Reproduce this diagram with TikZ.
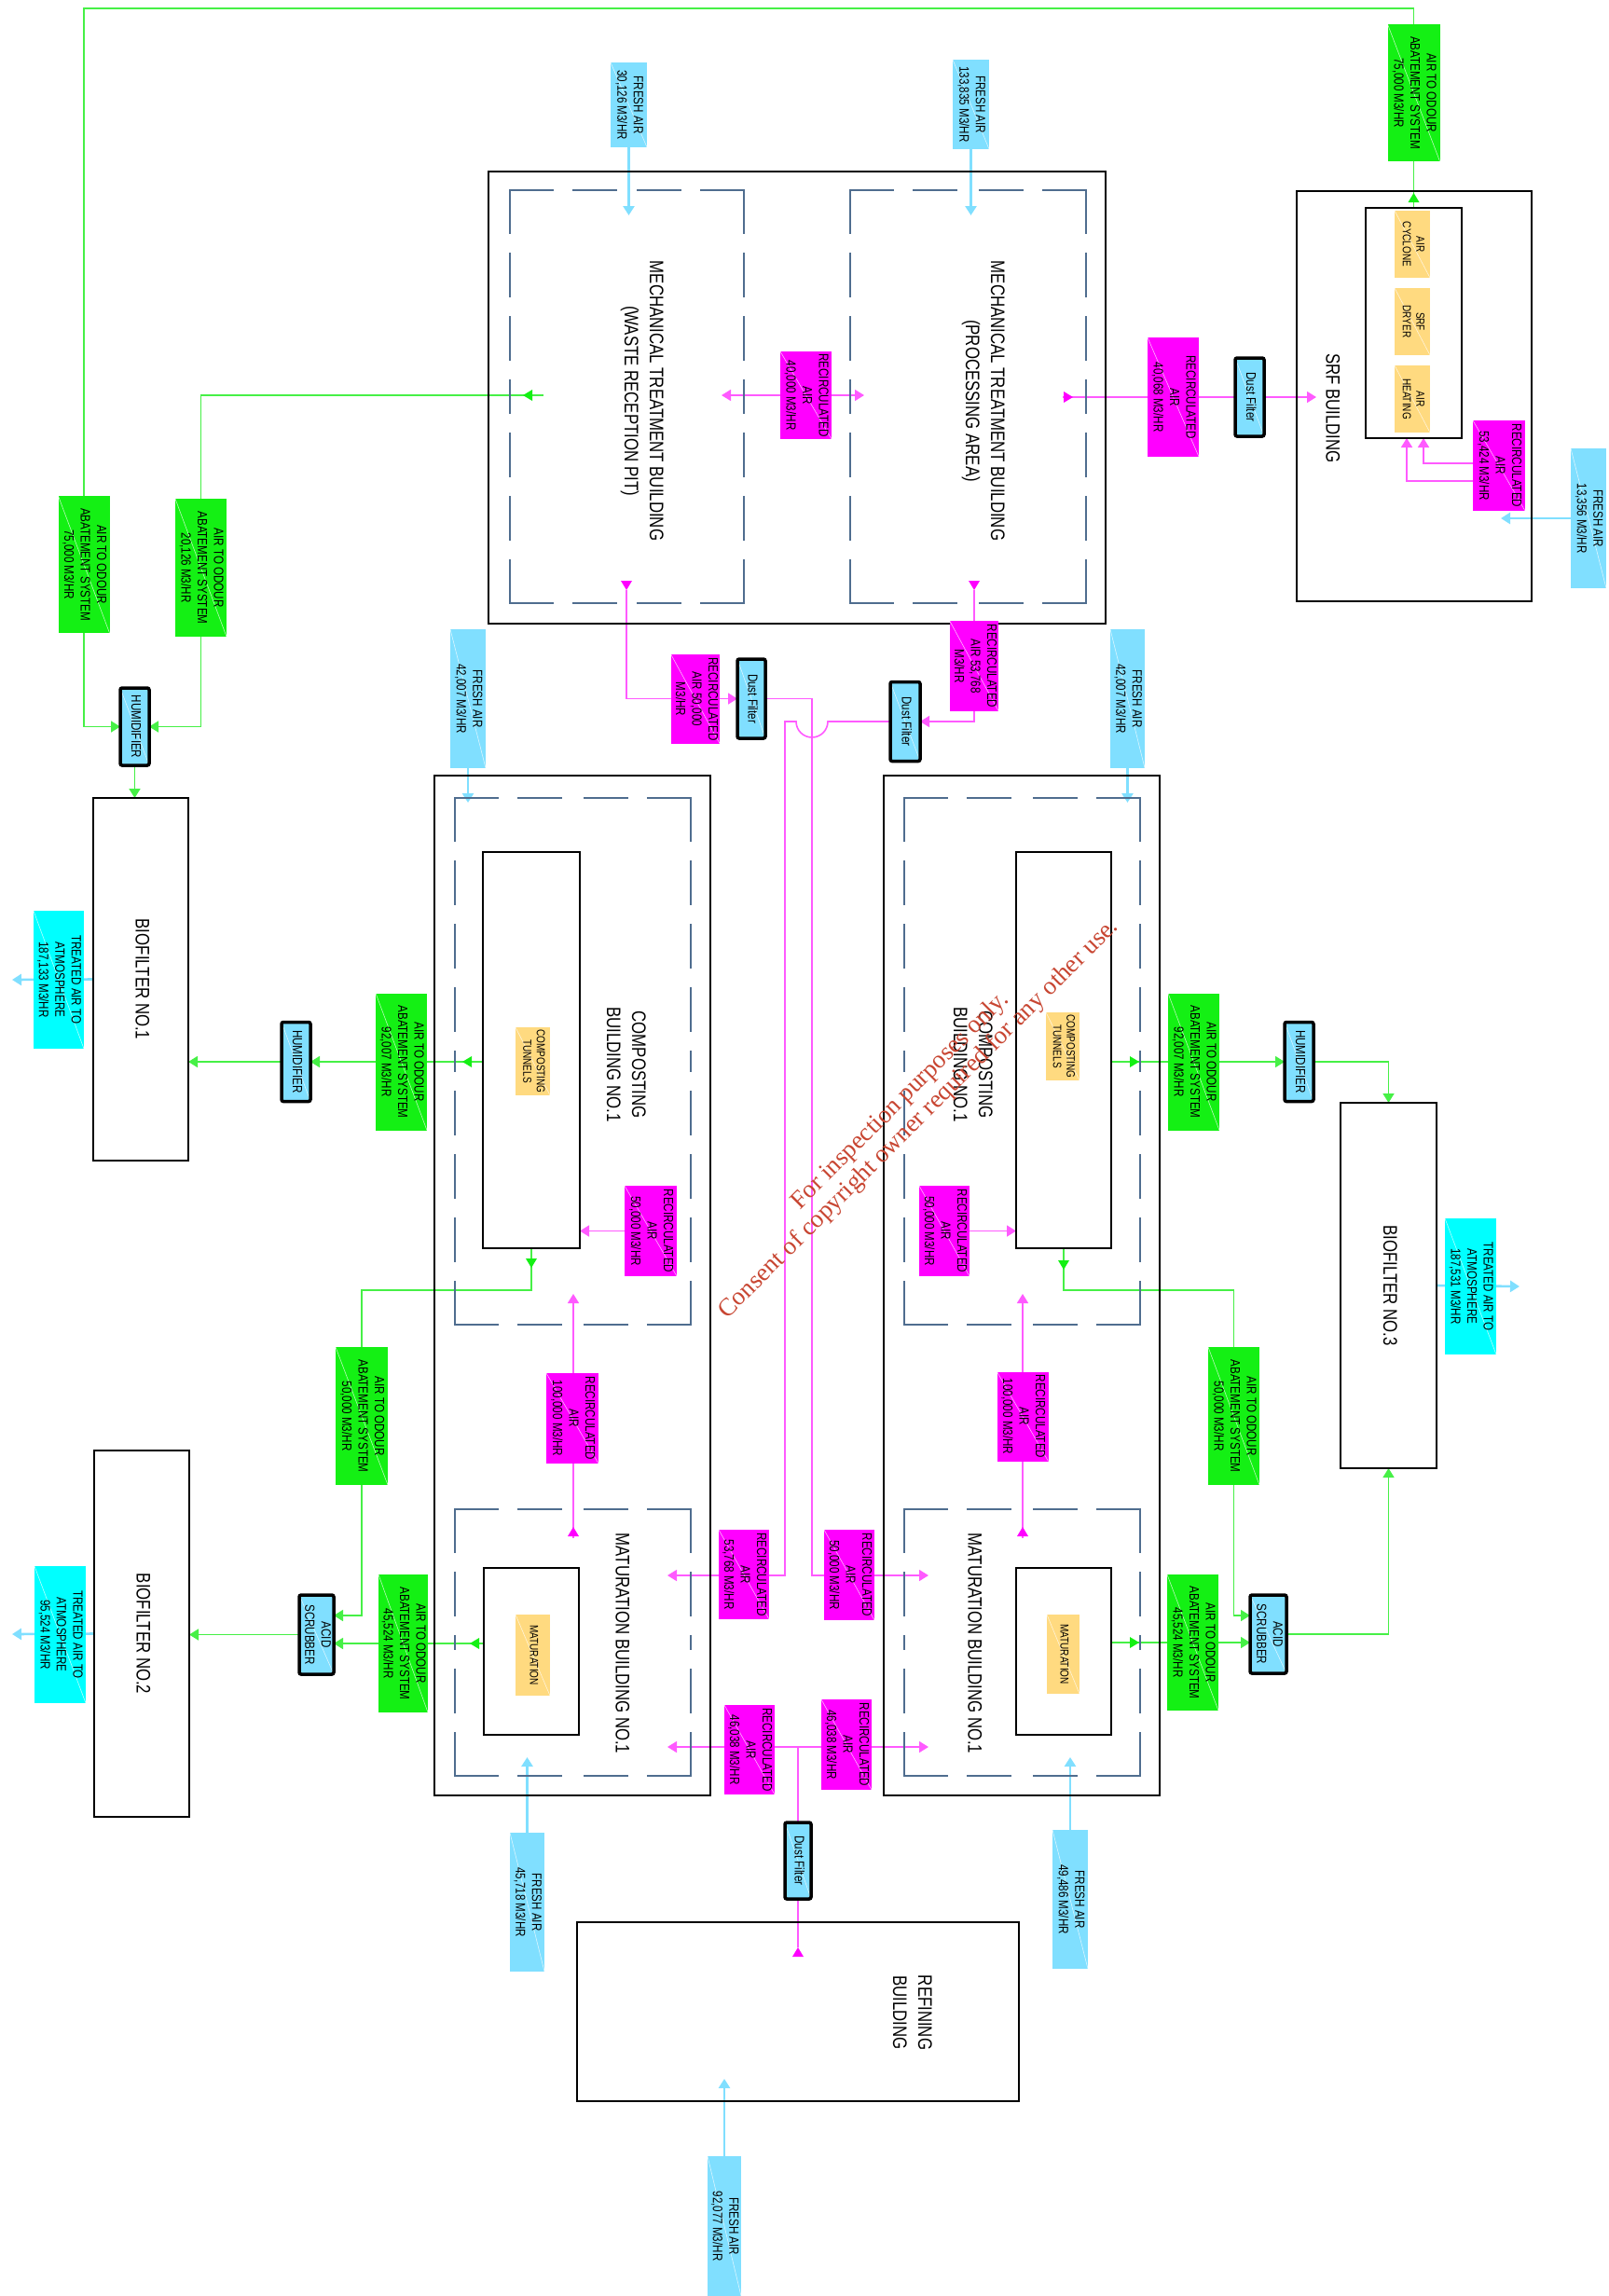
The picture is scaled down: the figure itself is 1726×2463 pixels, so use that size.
\documentclass[tikz,border=0pt]{standalone}
\usepackage{fontspec}
\usepackage{graphicx}
\usetikzlibrary{arrows.meta}
\newfontfamily\cad{Liberation Sans}[FakeStretch=0.8]
\newfontfamily\wmfont{Liberation Serif}
\definecolor{cfresh}{RGB}{128,223,255}
\definecolor{ctreat}{RGB}{0,255,255}
\definecolor{cgreen}{RGB}{20,240,20}
\definecolor{cgline}{RGB}{70,240,70}
\definecolor{cmag}{RGB}{255,0,255}
\definecolor{cmline}{RGB}{255,90,255}
\definecolor{cyel}{RGB}{255,218,128}
\definecolor{cdash}{RGB}{79,109,143}
\definecolor{cwm}{RGB}{200,70,50}
\pgfdeclarelayer{bg}
\pgfsetlayers{bg,main}
\newcommand\rtx[1]{\rotatebox{-90}{\begin{tabular}{@{}c@{}}#1\end{tabular}}}
\newcommand\atip[3]{\fill[#1,shift={(#2)},rotate=#3] (0,0) -- (-10,6) -- (-10,-6) -- cycle;}
\newcommand\dbox[4]{%
 \draw[dashln] (#1,#2) -- ({(#1+#3)/2},#2);
 \draw[dashln] (#3,#2) -- ({(#1+#3)/2},#2);
 \draw[dashln] (#1,#4) -- ({(#1+#3)/2},#4);
 \draw[dashln] (#3,#4) -- ({(#1+#3)/2},#4);
 \draw[dashln] (#1,#2) -- (#1,{(#2+#4)/2});
 \draw[dashln] (#1,#4) -- (#1,{(#2+#4)/2});
 \draw[dashln] (#3,#2) -- (#3,{(#2+#4)/2});
 \draw[dashln] (#3,#4) -- (#3,{(#2+#4)/2});}
\tikzset{
 box/.style={inner sep=0pt, outer sep=0pt, font=\cad\fontsize{14.5}{17.5}\selectfont,
   path picture={\draw[white,line width=0.6pt,opacity=0.7] (path picture bounding box.north west) -- (path picture bounding box.south east);}},
 wh/.style 2 args={minimum width=#1, minimum height=#2},
 fresh/.style={box, fill=cfresh},
 treated/.style={box, fill=ctreat},
 odour/.style={box, fill=cgreen},
 recirc/.style={box, fill=cmag},
 unit/.style={box, fill=cyel, font=\cad\fontsize{12.5}{14.5}\selectfont},
 equip/.style={box, fill=cfresh, draw=black, line width=3.5pt, rounded corners=2pt},
 bldg/.style={draw=black, line width=2.5pt, inner sep=0pt, outer sep=0pt, font=\cad\fontsize{21}{27}\selectfont},
 title/.style={inner sep=0pt, font=\cad\fontsize{21}{27}\selectfont},
 dashln/.style={draw=cdash, line width=2.6pt, dash pattern=on 46pt off 22pt, line cap=rect},
 gline/.style={draw=cgline, line width=1.6pt},
 faline/.style={draw=cfresh, line width=2.6pt},
 mline/.style={draw=cmline, line width=1.6pt},
 tip/.style={-{Triangle[length=10pt,width=12pt]}},
 tips/.style={{Triangle[length=10pt,width=12pt]}-{Triangle[length=10pt,width=12pt]}},
}
\begin{document}
\begin{tikzpicture}[x=1pt,y=-1pt]
\useasboundingbox (0,0) rectangle (1726,2463);
% ---------- top area
\node[fresh, wh={39}{91}] (fa1) at (674.5,112.5) {\rtx{FRESH AIR\\30,126 M3/HR}};
\node[fresh, wh={39}{96}] (fa2) at (1041.5,112) {\rtx{FRESH AIR\\133,835 M3/HR}};
\node[odour, wh={56}{147}] (gSRF) at (1516.5,99.5) {\rtx{AIR TO ODOUR\\ABATEMENT SYSTEM\\75,000 M3/HR}};
% SRF building
\node[bldg, wh={252}{440}] (srf) at (1517,425) {};
\node[title] (srfT) at (1428,438) {\rtx{SRF BUILDING}};
\node[bldg, wh={103}{247}] (srfin) at (1516.5,346.5) {};
\node[unit, wh={38}{72}] (yc1) at (1515,262) {\rtx{AIR\\CYCLONE}};
\node[unit, wh={38}{72}] (yc2) at (1515,345) {\rtx{SRF\\DRYER}};
\node[unit, wh={38}{72}] (yc3) at (1515,428) {\rtx{AIR\\HEATING}};
\node[recirc, wh={56}{97}] (mSRF) at (1608,499.5) {\rtx{RECIRCULATED\\AIR\\53,424 M3/HR}};
\node[fresh, wh={38}{150}] (fa3) at (1704,556) {\rtx{FRESH AIR\\13,356 M3/HR}};
% Mechanical treatment building
\node[bldg, wh={662}{485}] (mech) at (855,426.5) {};
\dbox{547}{204}{798}{647}
\dbox{912}{204}{1165}{647}
\node[title] (mechT1) at (689,430) {\rtx{MECHANICAL TREATMENT BUILDING\\(WASTE RECEPTION PIT)}};
\node[title] (mechT2) at (1055,430) {\rtx{MECHANICAL TREATMENT BUILDING\\(PROCESSING AREA)}};
\node[recirc, wh={55}{94}] (m40) at (864.5,424) {\rtx{RECIRCULATED\\AIR\\40,000 M3/HR}};
\node[recirc, wh={55}{128}] (m40068) at (1258.5,426) {\rtx{RECIRCULATED\\AIR\\40,068 M3/HR}};
\node[equip, wh={31}{84}] (df1) at (1340.5,426) {\rtx{Dust Filter}};
% left column
\node[odour, wh={55}{147}] (gL75) at (90,605.5) {\rtx{AIR TO ODOUR\\ABATEMENT SYSTEM\\75,000 M3/HR}};
\node[odour, wh={55}{148}] (gL20) at (215.5,609) {\rtx{AIR TO ODOUR\\ABATEMENT SYSTEM\\20,126 M3/HR}};
\node[equip, wh={31}{83}] (hum1) at (144.5,779.5) {\rtx{HUMIDIFIER}};
\node[bldg, wh={102}{389}] (bio1) at (151,1050.5) {\rtx{BIOFILTER NO.1}};
\node[treated, wh={54}{148}] (tr1) at (63,1051) {\rtx{TREATED AIR TO\\ATMOSPHERE\\187,133 M3/HR}};
\node[equip, wh={31}{85}] (hum2) at (317.5,1139) {\rtx{HUMIDIFIER}};
\node[odour, wh={55}{147}] (gL92) at (430.5,1139) {\rtx{AIR TO ODOUR\\ABATEMENT SYSTEM\\92,007 M3/HR}};
\node[odour, wh={56}{148}] (gL50) at (388,1519) {\rtx{AIR TO ODOUR\\ABATEMENT SYSTEM\\50,000 M3/HR}};
\node[bldg, wh={102}{393}] (bio2) at (152,1752.5) {\rtx{BIOFILTER NO.2}};
\node[treated, wh={55}{147}] (tr2) at (64.5,1753.5) {\rtx{TREATED AIR TO\\ATMOSPHERE\\95,524 M3/HR}};
\node[equip, wh={37}{85}] (acid1) at (339.5,1753.5) {\rtx{ACID\\SCRUBBER}};
\node[odour, wh={53}{148}] (gL45) at (432.5,1763) {\rtx{AIR TO ODOUR\\ABATEMENT SYSTEM\\45,524 M3/HR}};
% left composting / maturation building
\node[bldg, wh={296}{1094}] (bldL) at (614,1379) {};
\dbox{488}{856}{741}{1421}
\dbox{488}{1619}{741}{1905}
\node[bldg, wh={104}{425}] (compL) at (570,1126.5) {};
\node[unit, wh={37}{73}] (ctL) at (571.5,1138.5) {\rtx{COMPOSTING\\TUNNELS}};
\node[title] (cbL) at (670,1142) {\rtx{COMPOSTING\\BUILDING NO.1}};
\node[recirc, wh={56}{97}] (m50L) at (698,1320.5) {\rtx{RECIRCULATED\\AIR\\50,000 M3/HR}};
\node[recirc, wh={56}{97}] (m100L) at (614,1521.5) {\rtx{RECIRCULATED\\AIR\\100,000 M3/HR}};
\node[bldg, wh={102}{179}] (matL) at (570,1771.5) {};
\node[unit, wh={37}{87}] (maL) at (571.5,1775.5) {\rtx{MATURATION}};
\node[title] (mbL) at (666,1763) {\rtx{MATURATION BUILDING NO.1}};
\node[fresh, wh={38}{149}] (fa42L) at (502,749.5) {\rtx{FRESH AIR\\42,007 M3/HR}};
\node[fresh, wh={37}{149}] (fa45) at (565.5,2040.5) {\rtx{FRESH AIR\\45,718 M3/HR}};
% middle
\node[recirc, wh={52}{96}] (m50top) at (746,750) {\rtx{RECIRCULATED\\AIR 50,000\\M3/HR}};
\node[equip, wh={30}{85}] (df2) at (806,749.5) {\rtx{Dust Filter}};
\node[recirc, wh={52}{97}] (m53top) at (1045,714.5) {\rtx{RECIRCULATED\\AIR 53,768\\M3/HR}};
\node[equip, wh={32}{85}] (df3) at (971,774) {\rtx{Dust Filter}};
\node[recirc, wh={54}{96}] (m53bot) at (798,1689) {\rtx{RECIRCULATED\\AIR\\53,768 M3/HR}};
\node[recirc, wh={54}{97}] (m50bot) at (911,1689.5) {\rtx{RECIRCULATED\\AIR\\50,000 M3/HR}};
\node[recirc, wh={54}{96}] (m46L) at (804,1877) {\rtx{RECIRCULATED\\AIR\\46,038 M3/HR}};
\node[recirc, wh={54}{97}] (m46R) at (908,1871.5) {\rtx{RECIRCULATED\\AIR\\46,038 M3/HR}};
\node[equip, wh={28}{82}] (df4) at (856,1996) {\rtx{Dust Filter}};
\node[bldg, wh={474}{192}] (refin) at (856,2158) {};
\node[title] (refT) at (977,2159) {\rtx{REFINING\\BUILDING}};
\node[fresh, wh={36}{150}] (fa92) at (777,2388) {\rtx{FRESH AIR\\92,077 M3/HR}};
% right composting / maturation building
\node[bldg, wh={296}{1094}] (bldR) at (1096,1379) {};
\dbox{970}{856}{1223}{1421}
\dbox{970}{1619}{1223}{1905}
\node[bldg, wh={102}{425}] (compR) at (1141,1126.5) {};
\node[unit, wh={36}{73}] (ctR) at (1140,1122.5) {\rtx{COMPOSTING\\TUNNELS}};
\node[title] (cbR) at (1042,1142) {\rtx{COMPOSTING\\BUILDING NO.1}};
\node[recirc, wh={54}{97}] (m50R) at (1013,1320.5) {\rtx{RECIRCULATED\\AIR\\50,000 M3/HR}};
\node[recirc, wh={55}{96}] (m100R) at (1097,1519.5) {\rtx{RECIRCULATED\\AIR\\100,000 M3/HR}};
\node[bldg, wh={102}{179}] (matR) at (1141,1771.5) {};
\node[unit, wh={35}{85}] (maR) at (1140.5,1774.5) {\rtx{MATURATION}};
\node[title] (mbR) at (1044,1763) {\rtx{MATURATION BUILDING NO.1}};
\node[fresh, wh={37}{149}] (fa42R) at (1209.5,749.5) {\rtx{FRESH AIR\\42,007 M3/HR}};
\node[fresh, wh={38}{149}] (fa49) at (1148,2037.5) {\rtx{FRESH AIR\\49,486 M3/HR}};
\node[odour, wh={55}{147}] (gR92) at (1280.5,1139) {\rtx{AIR TO ODOUR\\ABATEMENT SYSTEM\\92,007 M3/HR}};
\node[equip, wh={31}{85}] (humR) at (1393.5,1139) {\rtx{HUMIDIFIER}};
\node[bldg, wh={103}{392}] (bio3) at (1489.5,1379) {\rtx{BIOFILTER NO.3}};
\node[treated, wh={55}{146}] (tr3) at (1577.5,1380) {\rtx{TREATED AIR TO\\ATMOSPHERE\\187,531 M3/HR}};
\node[odour, wh={55}{148}] (gR50) at (1323.5,1519) {\rtx{AIR TO ODOUR\\ABATEMENT SYSTEM\\50,000 M3/HR}};
\node[equip, wh={39}{84}] (acidR) at (1360.5,1753) {\rtx{ACID\\SCRUBBER}};
\node[odour, wh={55}{146}] (gR45) at (1279.5,1762) {\rtx{AIR TO ODOUR\\ABATEMENT SYSTEM\\45,524 M3/HR}};
% watermark
\node[text=cwm, rotate=45, align=center, font=\wmfont\fontsize{27}{28}\selectfont, inner sep=0pt] (wm) at (976,1191) {For inspection purposes only.\\Consent of copyright owner required for any other use.};
% ---------- coordinates
\coordinate (cTL) at (90,9);
\coordinate (mG0) at (583,424);
\coordinate (mG) at (561,424);
\coordinate (srfTip) at (1516.5,207);
\coordinate (mA) at (774,424);
\coordinate (mB) at (927,424);
\coordinate (mC) at (1140,426);
\coordinate (mCt) at (1151,426);
\coordinate (srfM) at (1412,426);
\coordinate (mS1) at (1580,497);
\coordinate (mS2) at (1580,516);
\coordinate (sR1) at (1527,470);
\coordinate (sR2) at (1509,470);
\coordinate (srfair) at (1610,556);
\coordinate (faT1) at (674.5,231);
\coordinate (faT2) at (1041.5,231);
\coordinate (faT3) at (502,861);
\coordinate (faT4) at (1209.5,861);
\coordinate (faT5) at (565.5,1885);
\coordinate (faT6) at (1148,1885);
\coordinate (faT7) at (777,2230);
\coordinate (tr1out) at (13,1051);
\coordinate (tr2out) at (13,1753);
\coordinate (tr3out) at (1630,1380);
\coordinate (mpA) at (672,633);
\coordinate (mpB) at (1045,633);
\coordinate (j1) at (871,1690);
\coordinate (tipMR1) at (996,1690);
\coordinate (jA) at (888,774);
\coordinate (jB) at (842,774);
\coordinate (tipML1) at (716,1690);
\coordinate (cLt) at (570,1360);
\coordinate (cLa) at (570,1384);
\coordinate (cRt) at (1141,1362);
\coordinate (cRa) at (1141,1384);
\coordinate (aL1) at (358,1733);
\coordinate (matLw) at (519,1763);
\coordinate (aL2) at (358,1763);
\coordinate (gLt2) at (504,1763);
\coordinate (gLt1) at (496,1139);
\coordinate (gRt1) at (1222,1139);
\coordinate (aR1) at (1341,1733);
\coordinate (matRe) at (1192,1762);
\coordinate (aR2) at (1341,1762);
\coordinate (gRt2) at (1222,1762);
\coordinate (pLb) at (615,1650);
\coordinate (pLm) at (615,1638);
\coordinate (pLt) at (615,1388);
\coordinate (pRb) at (1097,1650);
\coordinate (pRm) at (1097,1638);
\coordinate (pRt) at (1097,1388);
\coordinate (refA) at (856,2089);
\coordinate (tipML2) at (716,1874);
\coordinate (tipMR2) at (996,1874);
% ---------- connectors
\begin{pgfonlayer}{bg}
\fill[white] (0,0) rectangle (1726,2463);
% green
\draw[gline] (gSRF.north) |- (cTL) -- (gL75.north);
\draw[gline,tip] (gL75.south) |- (hum1.west);
\draw[gline,tip] (gL20.south) |- (hum1.east);
\draw[gline] (mG0) -| (gL20.north);
\draw[gline,tip] (hum1.south) -- (hum1.south |- bio1.north);
\draw[gline] (srfin.north) -- (gSRF.south);
\draw[gline,tip] (compL.west |- hum2.east) -- (hum2.east);
\draw[gline,tip] (hum2.west) -- (hum2.west -| bio1.east);
\draw[gline] (compL.south) -- (cLa) -| (gL50.north);
\draw[gline,tip] (gL50.south) |- (aL1);
\draw[gline,tip] (matLw) -- (aL2);
\draw[gline,tip] (acid1.west) -- (acid1.west -| bio2.east);
\draw[gline,tip] (compR.east |- humR.west) -- (humR.west);
\draw[gline,tip] (humR.east) -| (bio3.north);
\draw[gline] (compR.south) -- (cRa) -| (gR50.north);
\draw[gline,tip] (gR50.south) |- (aR1);
\draw[gline,tip] (matRe) -- (aR2);
\draw[gline,tip] (acidR.east) -| (bio3.south);
% fresh / treated air
\draw[faline,tip] (fa1.south) -- (faT1);
\draw[faline,tip] (fa2.south) -- (faT2);
\draw[faline,tip] (fa3.west) -- (srfair);
\draw[faline,tip] (fa42L.south) -- (faT3);
\draw[faline,tip] (fa42R.south) -- (faT4);
\draw[faline,tip] (fa45.north) -- (faT5);
\draw[faline,tip] (fa49.north) -- (faT6);
\draw[faline,tip] (fa92.north) -- (faT7);
\draw[faline,tip] (bio1.west) -- (tr1out);
\draw[faline,tip] (bio2.west) -- (tr2out);
\draw[faline,tip] (bio3.east) -- (tr3out);
% magenta
\draw[mline,tips] (mA) -- (mB);
\draw[mline] (mC) -- (m40068.west);
\draw[mline] (m40068.east) -- (df1.west);
\draw[mline,tip] (df1.east) -- (srfM);
\draw[mline,tip] (mS1) -| (sR1);
\draw[mline,tip] (mS2) -| (sR2);
\draw[mline,tip] (mpA) |- (df2.west);
\draw[mline,tip] (df2.east) -| (j1) -- (tipMR1);
\draw[mline,tip] (mpB) |- (df3.east);
\draw[mline,tip] (df3.west) -- (jA) arc[start angle=0, end angle=180, radius=17] -- (jB) |- (tipML1);
\draw[mline,tip] (pLb) -- (pLt);
\draw[mline,tip] (pRb) -- (pRt);
\draw[mline,tip] (m50L.west) -- (m50L.west -| compL.east);
\draw[mline,tip] (m50R.east) -- (m50R.east -| compR.west);
\draw[mline] (refA) -- (df4.south);
\draw[mline,tip] (df4.north) |- (tipML2);
\draw[mline,tip] (df4.north) |- (tipMR2);
\end{pgfonlayer}
% mid-line arrow tips
\atip{cgreen}{mG}{180}
\atip{cgreen}{srfTip}{90}
\atip{cgreen}{gLt1}{180}
\atip{cgreen}{cLt}{-90}
\atip{cgreen}{gLt2}{180}
\atip{cgreen}{gRt1}{0}
\atip{cgreen}{cRt}{-90}
\atip{cgreen}{gRt2}{0}
\atip{cmag}{mCt}{0}
\atip{cmag}{mpA}{-90}
\atip{cmag}{mpB}{-90}
\atip{cmag}{pLm}{90}
\atip{cmag}{pRm}{90}
\atip{cmag}{refA}{90}
\end{tikzpicture}
\end{document}
